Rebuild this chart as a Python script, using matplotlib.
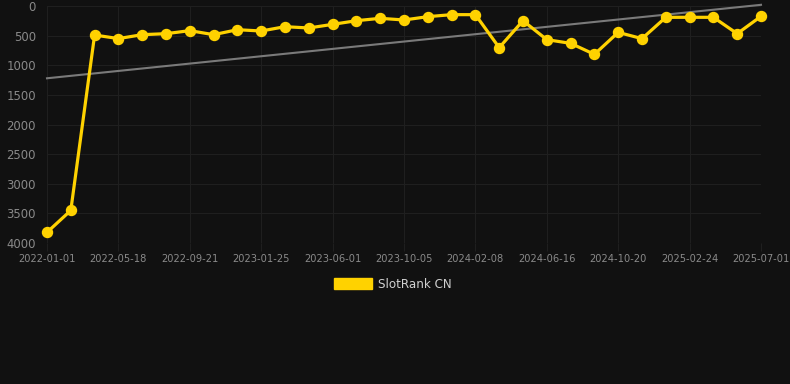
import matplotlib
matplotlib.use("Agg")
import matplotlib.pyplot as plt
from matplotlib.patches import Patch

# 数据：按时间顺序的排名（数值越小越好）
tick_labels = [
    "2022-01-01", "2022-05-18", "2022-09-21", "2023-01-25", "2023-06-01", "2023-10-05",
    "2024-02-08", "2024-06-16", "2024-10-20", "2025-02-24", "2025-07-01",
]
rank_values = [
    3820, 3450, 490, 550, 484, 467, 416, 484, 400, 422, 349,
    371, 310, 248, 208, 236, 180, 146, 146, 703, 248, 568,
    630, 816, 445, 551, 191, 191, 191, 467, 174,
]
trend_values = [1220, -20]
series_name = "SlotRank CN"

BG = "#111111"
GRID = "#1f1f1f"
YELLOW = "#FFD200"

fig = plt.figure(figsize=(7.9, 3.84), dpi=100)
fig.patch.set_facecolor(BG)
ax = fig.add_axes([47 / 790, 1 - 243 / 384, (761 - 47) / 790, (243 - 6) / 384])
ax.set_facecolor(BG)

x = list(range(len(rank_values)))
ax.plot([x[0], x[-1]], trend_values, color="#7a7a7a", lw=1.5, zorder=2, clip_on=False)
ax.plot(x, rank_values, color=YELLOW, lw=2.3, marker="o", markersize=7.2,
        markerfacecolor=YELLOW, markeredgecolor=YELLOW, zorder=3, clip_on=False)

ax.set_xlim(0, len(rank_values) - 1)
ax.set_ylim(4000, 0)
ax.set_yticks(range(0, 4001, 500))
ax.set_xticks(x[::3])
ax.set_xticklabels(tick_labels)

ax.grid(True, color=GRID, lw=0.8, zorder=0)
for s in ax.spines.values():
    s.set_visible(False)
ax.tick_params(axis="y", length=0, pad=8, labelsize=8.4, labelcolor="#8a8a8a")
ax.tick_params(axis="x", length=6, color=GRID, pad=2, labelsize=7.1, labelcolor="#8a8a8a")

handle = Patch(facecolor=YELLOW, edgecolor=YELLOW)
fig.legend([handle], [series_name], loc="center", bbox_to_anchor=(0.497, 1 - 284 / 384),
           frameon=False, fontsize=8.6, labelcolor="#d0d0d0",
           handlelength=3.2, handleheight=1.0, handletextpad=0.5)

fig.savefig("out.png", dpi=100, facecolor=BG)
